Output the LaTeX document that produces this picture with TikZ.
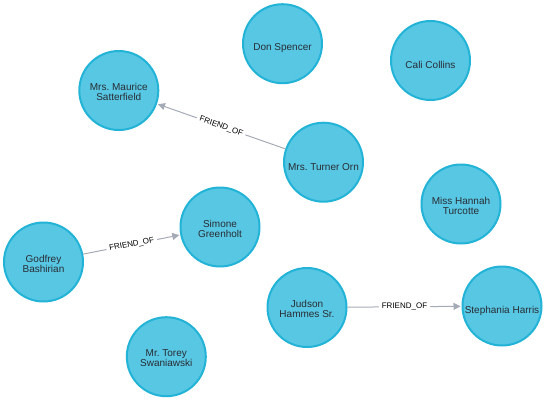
\documentclass[tikz,border=0pt]{standalone}
\usepackage{fontspec}
\setmainfont{Liberation Sans}
\usetikzlibrary{arrows.meta}

\newlength{\du}
\setlength{\du}{0.75pt}

\definecolor{personfill}{rgb}{0.341176, 0.780392, 0.890196}
\definecolor{personline}{rgb}{0.137255, 0.701961, 0.843137}
\definecolor{persontext}{rgb}{0.164706, 0.172549, 0.203922}
\definecolor{relline}{rgb}{0.647059, 0.670588, 0.713725}

\tikzset{
  person/.style={circle, fill=personfill, draw=personline, line width=2\du,
    minimum size=79\du, inner sep=0pt},
  personname/.style={inner sep=0pt, anchor=base, align=center, text=persontext,
    font=\fontsize{7.5pt}{7.5pt}\selectfont\frenchspacing},
  oneline/.style={personname, yshift=-4.5\du},
  twoline/.style={personname, yshift=-1.5\du},
  rel/.style={draw=relline, line width=1\du,
    -{Triangle[length=5.25pt,width=5.25pt]}, shorten >=0.75pt},
  rellabel/.style={sloped, fill=white, inner xsep=3\du, inner ysep=1\du, text=black,
    font=\fontsize{6pt}{6pt}\selectfont}
}

\begin{document}
\begin{tikzpicture}[x=1\du,y=-1\du]
\useasboundingbox (0.000000,0.000000) rectangle (546.000000,401.000000);
% people
\node[person, label={[oneline]center:Don Spencer}] (spencer) at (282.500000,43.700000){};
\node[person, label={[oneline]center:Cali Collins}] (collins) at (430.500000,60.500000){};
\node[person, label={[twoline]center:Mrs. Maurice\\Satterfield}] (satterfield) at (118.800000,90.500000){};
\node[person, label={[oneline]center:Mrs. Turner Orn}] (orn) at (323.500000,162.200000){};
\node[person, label={[twoline]center:Miss Hannah\\Turcotte}] (turcotte) at (461.000000,204.000000){};
\node[person, label={[twoline]center:Simone\\Greenholt}] (greenholt) at (220.000000,227.000000){};
\node[person, label={[twoline]center:Godfrey\\Bashirian}] (bashirian) at (43.500000,262.000000){};
\node[person, label={[twoline]center:Judson\\Hammes Sr.}] (hammes) at (307.000000,307.500000){};
\node[person, label={[oneline]center:Stephania Harris}] (harris) at (502.000000,306.000000){};
\node[person, label={[twoline]center:Mr. Torey\\Swaniawski}] (swaniawski) at (166.300000,356.700000){};
% FRIEND_OF
\draw[rel] (orn) -- node[rellabel]{FRIEND\_OF} (satterfield);
\draw[rel] (bashirian) -- node[rellabel]{FRIEND\_OF} (greenholt);
\draw[rel] (hammes) -- node[rellabel]{FRIEND\_OF} (harris);
\end{tikzpicture}
\end{document}
